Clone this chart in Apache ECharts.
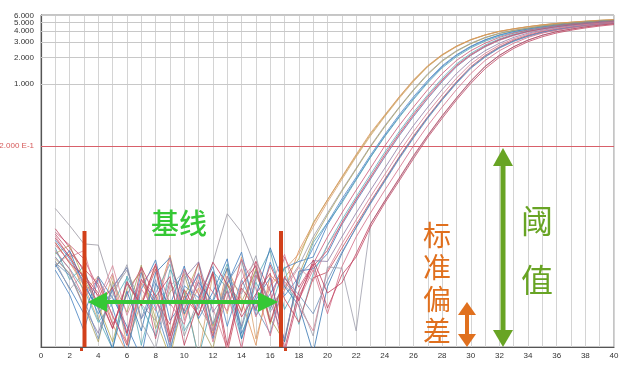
<!DOCTYPE html>
<html><head><meta charset="utf-8">
<script src="https://cdn.jsdelivr.net/npm/echarts@6/dist/echarts.min.js"></script>
<style>html,body{margin:0;padding:0;background:#fff}#c{width:629px;height:376px}</style>
</head><body><div id="c"></div><script>
const cycles = [1,2,3,4,5,6,7,8,9,10,11,12,13,14,15,16,17,18,19,20,21,22,23,24,25,26,27,28,29,30,31,32,33,34,35,36,37,38,39,40];
const yTickValues = [6,5,4,3,2,1];
const yTickLabels = ['6.000','5.000','4.000','3.000','2.000','1.000'];
const thresholdValue = 0.2;
const thresholdLabel = '2.000 E-1';

const wellA1 = [0.016,0.0095,0.0052,0.0021,0.0068,0.0011,0.0034,0.0087,0.0015,0.0046,0.0008,0.0072,0.0025,0.011,0.0013,0.0052,0.0079,
 0.012,0.024,0.046,0.083,0.15,0.26,0.43,0.69,1.07,1.58,2.12,2.66,3.17,3.6,3.96,4.23,4.48,4.7,4.88,5.03,5.16,5.28,5.38];
const wellA2 = [0.012,0.015,0.0062,0.0031,0.0012,0.0048,0.0074,0.0022,0.0008,0.0039,0.0093,0.0018,0.0057,0.0027,0.0081,0.0019,0.0064,
 0.0105,0.027,0.049,0.087,0.155,0.27,0.44,0.71,1.1,1.6,2.15,2.7,3.2,3.62,3.98,4.26,4.5,4.72,4.9,5.06,5.2,5.32,5.42];
const wellA3 = [0.039,0.025,0.0155,0.015,0.0045,0.0078,0.0032,0.0021,0.0061,0.0014,0.0037,0.0095,0.034,0.021,0.0082,0.0029,0.0051,0.0088,
 0.0186,0.0347,0.063,0.112,0.2,0.34,0.55,0.87,1.32,1.86,2.4,2.92,3.4,3.8,4.1,4.35,4.6,4.8,4.95,5.1,5.22,5.33];
const wellA4 = [0.0088,0.012,0.0043,0.0067,0.0019,0.0009,0.0056,0.0032,0.0115,0.0024,0.0049,0.0015,0.0083,0.0036,0.0011,0.0069,0.0046,
 0.013,0.026,0.049,0.089,0.16,0.28,0.45,0.72,1.12,1.63,2.17,2.71,3.21,3.63,3.99,4.26,4.5,4.72,4.9,5.05,5.18,5.3,5.4];
const wellB1 = [0.0078,0.0041,0.0016,0.0063,0.0029,0.0009,0.0047,0.0102,0.0021,0.0035,0.0071,0.0013,0.0054,0.0125,0.0024,0.0042,0.0083,0.0098,
 0.011,0.0255,0.047,0.084,0.15,0.26,0.43,0.69,1.07,1.58,2.12,2.66,3.17,3.6,3.96,4.23,4.48,4.7,4.88,5.03,5.16,5.28];
const wellB2 = [0.014,0.0061,0.0086,0.0022,0.0010,0.0067,0.0031,0.0014,0.0079,0.0043,0.0008,0.0036,0.0092,0.0017,0.0062,0.013,0.0028,0.0057,
 0.016,0.027,0.045,0.082,0.148,0.255,0.42,0.67,1.04,1.53,2.05,2.58,3.08,3.5,3.86,4.14,4.4,4.62,4.8,4.96,5.1,5.22];
const wellB3 = [0.017,0.0105,0.0058,0.0025,0.0046,0.0014,0.0073,0.0029,0.0009,0.0052,0.0038,0.0086,0.0018,0.0061,0.0027,0.0096,0.0040,0.0065,
 0.014,0.027,0.05,0.088,0.157,0.27,0.45,0.72,1.11,1.62,2.16,2.7,3.2,3.63,3.98,4.25,4.5,4.72,4.9,5.05,5.18,5.3];
const wellB4 = [0.0105,0.0072,0.0031,0.0012,0.0058,0.0026,0.0089,0.0017,0.0044,0.0070,0.0021,0.0010,0.0053,0.0034,0.0078,0.0022,0.0012,0.0069,
 0.017,0.033,0.061,0.109,0.195,0.33,0.54,0.85,1.29,1.82,2.36,2.88,3.36,3.76,4.07,4.32,4.57,4.77,4.93,5.08,5.2,5.31];
const wellC1 = [0.021,0.015,0.0105,0.0049,0.0019,0.0041,0.0082,0.0013,0.0058,0.0027,0.0096,0.0016,0.0046,0.0010,0.0069,0.0033,0.011,0.0050,0.0092,
 0.0186,0.0347,0.063,0.112,0.2,0.34,0.55,0.87,1.32,1.86,2.4,2.92,3.4,3.8,4.1,4.35,4.6,4.8,4.95,5.1,5.22];
const wellC2 = [0.0091,0.0049,0.0025,0.0066,0.0038,0.0018,0.0008,0.0055,0.0031,0.0087,0.0022,0.0044,0.0105,0.0015,0.0036,0.0064,0.0012,0.0076,0.0081,
 0.012,0.0255,0.047,0.084,0.15,0.26,0.43,0.69,1.07,1.58,2.12,2.66,3.17,3.6,3.96,4.23,4.48,4.7,4.88,5.03,5.16];
const wellC3 = [0.019,0.011,0.013,0.0036,0.0088,0.0024,0.0060,0.0041,0.0013,0.0073,0.0052,0.0029,0.0010,0.0061,0.0098,0.0020,0.0047,0.0084,0.0058,
 0.015,0.026,0.049,0.086,0.153,0.265,0.44,0.7,1.09,1.6,2.13,2.66,3.15,3.57,3.92,4.2,4.45,4.66,4.84,5.0,5.13];
const wellC4 = [0.0125,0.0081,0.0047,0.0020,0.0033,0.0064,0.0011,0.0043,0.0091,0.0016,0.0030,0.0075,0.0049,0.0013,0.0057,0.0028,0.0085,0.0019,0.0071,
 0.015,0.029,0.053,0.095,0.17,0.29,0.48,0.76,1.17,1.7,2.24,2.78,3.27,3.7,4.02,4.28,4.52,4.73,4.9,5.05,5.18];
const wellC5 = [0.02,0.0125,0.0081,0.0054,0.0024,0.0011,0.0062,0.0035,0.0019,0.0080,0.0042,0.0014,0.0067,0.0026,0.0098,0.0045,0.0009,0.0039,0.0087,
 0.013,0.027,0.05,0.089,0.16,0.275,0.455,0.73,1.12,1.64,2.17,2.71,3.21,3.63,3.98,4.25,4.5,4.71,4.88,5.03,5.16];
const wellD1 = [0.011,0.0070,0.0030,0.0015,0.0051,0.0083,0.0022,0.0039,0.0011,0.0063,0.0097,0.0026,0.0045,0.0018,0.0076,0.0034,0.0013,0.0067,0.0100,0.0098,
 0.0186,0.0347,0.063,0.112,0.2,0.34,0.55,0.87,1.32,1.86,2.4,2.92,3.4,3.8,4.1,4.35,4.6,4.8,4.95,5.1];
const wellD2 = [0.016,0.0093,0.0068,0.0043,0.0017,0.0055,0.0031,0.0080,0.0012,0.0040,0.0024,0.0071,0.0009,0.0049,0.0028,0.0089,0.0037,0.0020,0.0064,0.0074,
 0.0138,0.0255,0.047,0.084,0.15,0.26,0.43,0.69,1.07,1.58,2.12,2.66,3.17,3.6,3.96,4.23,4.48,4.7,4.88,5.03];
const wellD3 = [0.0085,0.013,0.0052,0.0029,0.0010,0.0045,0.0016,0.0073,0.0108,0.0025,0.0057,0.0034,0.0082,0.0013,0.0040,0.014,0.0051,0.0031,0.0009,0.0051,
 0.012,0.024,0.045,0.081,0.146,0.25,0.42,0.67,1.04,1.54,2.06,2.6,3.1,3.53,3.89,4.17,4.42,4.64,4.82,4.97];
const wellD4 = [0.015,0.0098,0.0056,0.0034,0.0072,0.0015,0.0048,0.0027,0.0106,0.0021,0.0060,0.0012,0.0039,0.0081,0.0023,0.0052,0.0118,0.0030,0.0016,0.0078,
 0.0155,0.029,0.053,0.095,0.17,0.29,0.48,0.76,1.17,1.7,2.24,2.78,3.27,3.7,4.02,4.28,4.52,4.73,4.9,5.05];
const wellD5 = [0.0095,0.0068,0.0037,0.0013,0.0049,0.0084,0.0022,0.0061,0.0010,0.0035,0.0073,0.0019,0.0056,0.0100,0.0029,0.0015,0.0063,0.0041,0.0025,0.0060,
 0.0125,0.0235,0.044,0.079,0.142,0.245,0.41,0.66,1.02,1.51,2.03,2.57,3.06,3.5,3.86,4.15,4.4,4.62,4.8,4.95];
const wellE1 = [0.013,0.0080,0.0038,0.0063,0.0023,0.0012,0.0054,0.0088,0.0033,0.0019,0.0070,0.0044,0.0027,0.0104,0.0048,0.0014,0.0058,0.0036,0.0079,0.0025,0.0085,
 0.0186,0.0347,0.063,0.112,0.2,0.34,0.55,0.87,1.32,1.86,2.4,2.92,3.4,3.8,4.1,4.35,4.6,4.8,4.95];
const wellE2 = [0.0099,0.0047,0.0073,0.0028,0.0039,0.0090,0.0020,0.0010,0.0051,0.0076,0.0031,0.0016,0.0066,0.0042,0.0114,0.0026,0.0053,0.0035,0.0014,0.0085,0.0082,
 0.0016,0.026,0.047,0.084,0.15,0.26,0.43,0.69,1.07,1.58,2.12,2.66,3.17,3.6,3.96,4.23,4.48,4.7,4.88];
const wellE3 = [0.023,0.014,0.0076,0.0031,0.0050,0.0015,0.0085,0.0039,0.0066,0.0011,0.0034,0.0096,0.0054,0.0023,0.0042,0.0072,0.0010,0.0045,0.0092,0.0029,0.0069,
 0.011,0.024,0.045,0.08,0.143,0.25,0.41,0.66,1.02,1.5,2.02,2.55,3.04,3.46,3.82,4.1,4.35,4.57,4.75];
const wellE4 = [0.018,0.011,0.0063,0.0040,0.0017,0.0058,0.0031,0.0092,0.0014,0.0047,0.0024,0.0075,0.0011,0.0053,0.0088,0.0020,0.0066,0.0035,0.0102,0.0043,0.0056,
 0.012,0.026,0.048,0.086,0.155,0.265,0.44,0.7,1.09,1.6,2.13,2.67,3.17,3.6,3.95,4.22,4.47,4.68,4.86];

const wells = [
  {name:'A1', values:wellA1, color:'#d9a06e'},
  {name:'A2', values:wellA2, color:'#b4a752'},
  {name:'A3', values:wellA3, color:'#9b97a3'},
  {name:'A4', values:wellA4, color:'#e0925a'},
  {name:'B1', values:wellB1, color:'#4480c0'},
  {name:'B2', values:wellB2, color:'#52a5b5'},
  {name:'B3', values:wellB3, color:'#4d8ac6'},
  {name:'B4', values:wellB4, color:'#a9a060'},
  {name:'C1', values:wellC1, color:'#c95676'},
  {name:'C2', values:wellC2, color:'#3f7bbd'},
  {name:'C3', values:wellC3, color:'#d9879a'},
  {name:'C4', values:wellC4, color:'#5cb0bd'},
  {name:'C5', values:wellC5, color:'#c64f6c'},
  {name:'D1', values:wellD1, color:'#8c7ca6'},
  {name:'D2', values:wellD2, color:'#c84d5e'},
  {name:'D3', values:wellD3, color:'#3574b2'},
  {name:'D4', values:wellD4, color:'#d67d92'},
  {name:'D5', values:wellD5, color:'#6f8fb8'},
  {name:'E1', values:wellE1, color:'#d26d87'},
  {name:'E2', values:wellE2, color:'#9e9eab'},
  {name:'E3', values:wellE3, color:'#c24561'},
  {name:'E4', values:wellE4, color:'#bf3f5c'}
];

const chart = echarts.init(document.getElementById('c'), null, {renderer:'canvas'});
const FONT = 'Liberation Sans, Arial, sans-serif';
const CJK = 'Noto Sans CJK SC, sans-serif';

const series = wells.map(w => ({
  type:'line', name:w.name, symbol:'none', smooth:false, clip:true,
  data: cycles.map((c,i)=>[c, w.values[i]]),
  lineStyle:{width:1, color:w.color, opacity:0.8},
  emphasis:{disabled:true}, z:3
}));

const gridLines = yTickValues.map((v,i)=>({
  yAxis:v,
  lineStyle:{color:'#c8c8c8', width:1, type:'solid'},
  label:{show:true, position:'start', formatter:yTickLabels[i], color:'#333', fontSize:8, fontFamily:FONT, distance:7}
}));
gridLines.push({
  yAxis:thresholdValue,
  lineStyle:{color:'#d8606a', width:1, type:'solid'},
  label:{show:true, position:'start', formatter:thresholdLabel, color:'#d65a5a', fontSize:8, fontFamily:FONT, distance:7}
});
series.push({
  type:'line', name:'grid', data:[], symbol:'none', silent:true,
  markLine:{symbol:'none', silent:true, animation:false, data:gridLines, z:2}
});

const ORANGE_RED = '#d2401a';
const GREEN = '#35c835';
const ORANGE = '#e0701e';
const OLIVE = '#68a424';

const graphic = [
  {type:'rect', shape:{x:82.5,y:231,width:4,height:116}, style:{fill:ORANGE_RED}, z:100},
  {type:'rect', shape:{x:279,y:231,width:4,height:116}, style:{fill:ORANGE_RED}, z:100},
  {type:'rect', shape:{x:80,y:348,width:3,height:3}, style:{fill:ORANGE_RED}, z:100},
  {type:'rect', shape:{x:284,y:348,width:3,height:3}, style:{fill:ORANGE_RED}, z:100},
  {type:'rect', shape:{x:104,y:300,width:156,height:4}, style:{fill:GREEN}, z:100},
  {type:'polygon', shape:{points:[[88,302],[107,292],[107,312]]}, style:{fill:GREEN}, z:100},
  {type:'polygon', shape:{points:[[278,302],[258,292],[258,312]]}, style:{fill:GREEN}, z:100},
  {type:'text', style:{text:'基线', x:179, y:223, fill:GREEN, font:'500 28px '+CJK, align:'center', verticalAlign:'middle'}, z:100},
  {type:'text', style:{text:'标', x:437, y:235, fill:ORANGE, font:'28px '+CJK, align:'center', verticalAlign:'middle'}, z:100},
  {type:'text', style:{text:'准', x:437, y:267, fill:ORANGE, font:'28px '+CJK, align:'center', verticalAlign:'middle'}, z:100},
  {type:'text', style:{text:'偏', x:437, y:299, fill:ORANGE, font:'28px '+CJK, align:'center', verticalAlign:'middle'}, z:100},
  {type:'text', style:{text:'差', x:437, y:331, fill:ORANGE, font:'28px '+CJK, align:'center', verticalAlign:'middle'}, z:100},
  {type:'rect', shape:{x:465,y:312,width:4,height:25}, style:{fill:ORANGE}, z:100},
  {type:'polygon', shape:{points:[[467,302],[458,315],[476,315]]}, style:{fill:ORANGE}, z:100},
  {type:'polygon', shape:{points:[[467,347],[458,334],[476,334]]}, style:{fill:ORANGE}, z:100},
  {type:'rect', shape:{x:500.5,y:160,width:5,height:176}, style:{fill:OLIVE}, z:100},
  {type:'polygon', shape:{points:[[503,148],[493,166],[513,166]]}, style:{fill:OLIVE}, z:100},
  {type:'polygon', shape:{points:[[503,347],[493,330],[513,330]]}, style:{fill:OLIVE}, z:100},
  {type:'text', style:{text:'阈', x:537, y:221, fill:OLIVE, font:'32px '+CJK, align:'center', verticalAlign:'middle'}, z:100},
  {type:'text', style:{text:'值', x:537, y:280, fill:OLIVE, font:'32px '+CJK, align:'center', verticalAlign:'middle'}, z:100}
];

chart.setOption({
  animation:false,
  backgroundColor:'#ffffff',
  grid:{left:41, right:15, top:15, bottom:29, show:true, borderColor:'#8a8a8a', borderWidth:1, backgroundColor:'transparent', outerBoundsMode:'none'},
  xAxis:{
    type:'value', min:0, max:40, interval:1,
    axisLine:{show:true, lineStyle:{color:'#555', width:1.2}},
    axisTick:{show:false},
    axisLabel:{fontSize:8, color:'#333', fontFamily:FONT, margin:5, formatter:v => (v%2===0 ? String(v) : '')},
    splitLine:{show:true, lineStyle:{color:'#d4d4d4', width:1}}
  },
  yAxis:{
    type:'log', logBase:10, min:0.00105, max:6.1,
    axisLine:{show:true, lineStyle:{color:'#555', width:1.2}},
    axisTick:{show:false},
    axisLabel:{show:false},
    splitLine:{show:false}
  },
  series:series,
  graphic:graphic
});
</script></body></html>
